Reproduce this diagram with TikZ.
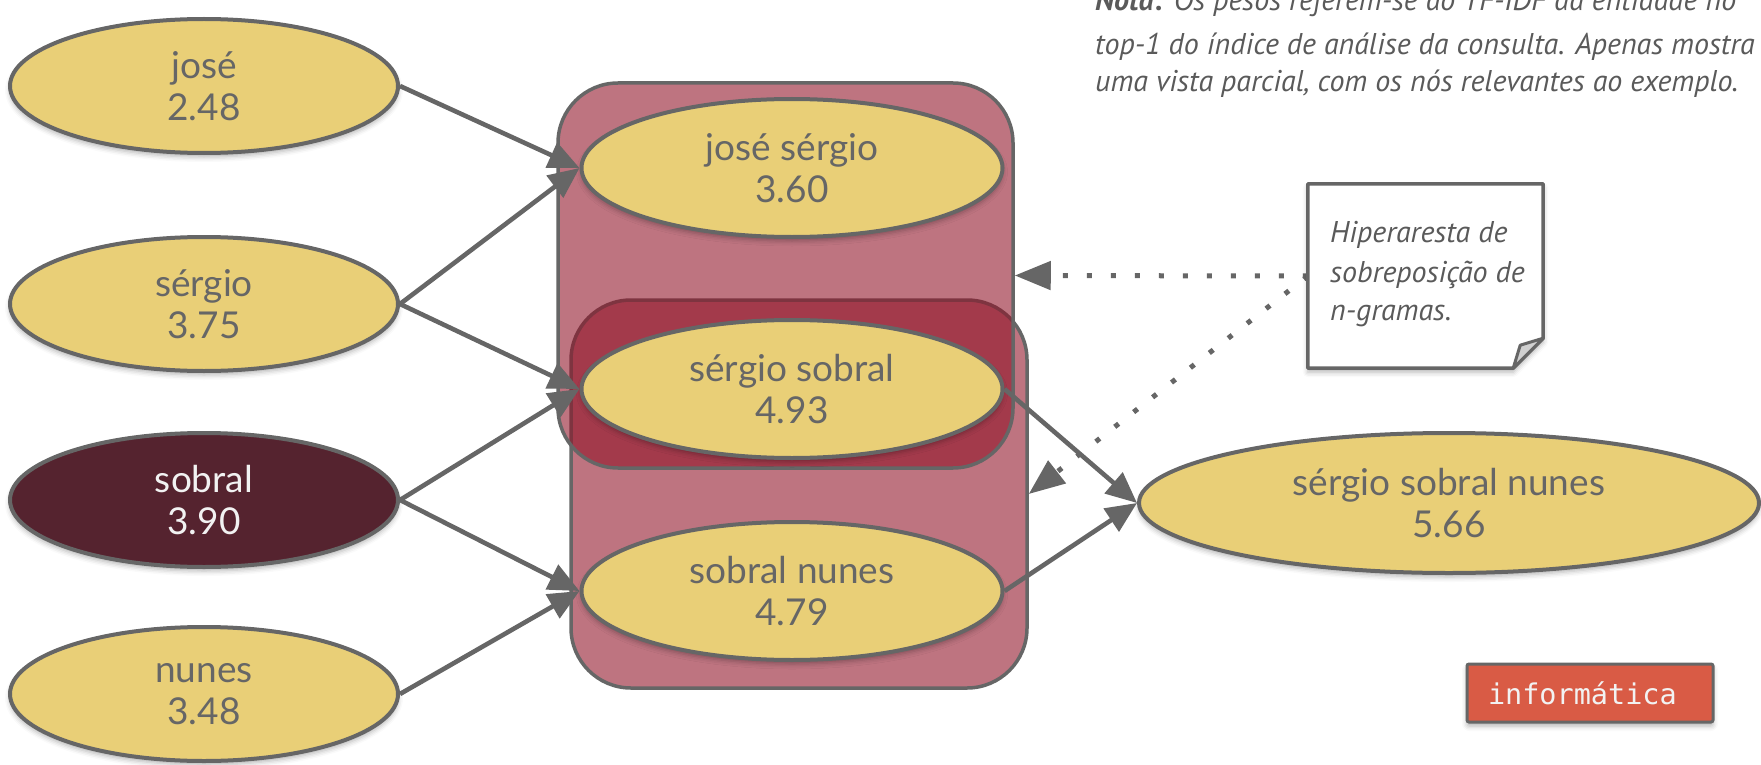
\documentclass[tikz,border=0pt]{standalone}
\usepackage{fontspec}
\setmainfont{Lato}
\newfontfamily\handfont{PT Sans}
\newfontfamily\codefont{DejaVu Sans Mono}
\usetikzlibrary{shapes.geometric,arrows.meta,calc,shadows.blur}
\definecolor{ink}{HTML}{666666}
\definecolor{ellfill}{HTML}{E9CF77}
\definecolor{darkfill}{HTML}{55232F}
\definecolor{hbred}{HTML}{901126}
\definecolor{notegrey}{HTML}{5A5A5A}
\definecolor{foldgrey}{HTML}{D0D0D0}
\definecolor{labred}{HTML}{D95B45}
\definecolor{labtext}{HTML}{F2F2F2}
\newlength\hwlen
\begin{document}
\settowidth\hwlen{\handfont\itshape\fontsize{30}{37}\selectfont uma vista parcial, com os nós relevantes ao exemplo.}%
\pgfmathsetmacro\hwfac{643/\hwlen}%
\begin{tikzpicture}[x=1pt,y=-1pt,
  every node/.style={inner sep=0pt},
  softshadow/.style={blur shadow={shadow xshift=0pt,shadow yshift=-4pt,shadow blur radius=5pt,shadow opacity=30}},
  ell/.style={ellipse, draw=ink, line width=4pt, fill=ellfill, text=ink, align=center,
    font=\fontsize{37}{42}\selectfont, minimum width=388pt, minimum height=134pt, softshadow},
  midell/.style={ell, minimum width=421pt, minimum height=138pt},
  bigell/.style={ell, minimum width=620pt, minimum height=140pt},
  darkell/.style={ell, fill=darkfill, text=labtext},
  hbox/.style={rectangle, rounded corners=60pt, draw=ink, line width=3.5pt, fill=hbred, fill opacity=0.585},
  conn/.style={draw=ink, line width=4.6pt, -{Triangle[length=31pt,width=27pt]}},
  dotconn/.style={draw=ink, line width=5pt, dash pattern=on 5pt off 19pt, -{Triangle[length=36pt,width=28pt]}},
  hand/.style={anchor=base west, text=notegrey, font=\handfont\itshape\fontsize{30}{37}\selectfont},
]
\path[use as bounding box] (0,0) rectangle (1761,765);
\clip (0,0) rectangle (1761,765);

% hyperedges
\node[hbox, minimum width=456pt, minimum height=388pt] (hb2) at (799,494) {};
\node[hbox, minimum width=455pt, minimum height=385pt] (hb1) at (785.5,275.5) {};

% left nodes
\node[ell] (jose) at (204,86) {josé\\2.48};
\node[ell] (sergio) at (204,304) {sérgio\\3.75};
\node[darkell] (sobral) at (204,500) {sobral\\3.90};
\node[ell] (nunes) at (204,694) {nunes\\3.48};

% middle nodes
\node[midell] (js) at (792,168) {josé sérgio\\3.60};
\node[midell] (ss) at (792,389) {sérgio sobral\\4.93};
\node[midell] (sn) at (792,591) {sobral nunes\\4.79};

% right node
\node[bigell] (ssn) at (1449,503) {sérgio sobral nunes\\5.66};

% connectors
\draw[conn] (jose.east) -- (js.west);
\draw[conn] (sergio.east) -- (js.west);
\draw[conn] (sergio.east) -- (ss.west);
\draw[conn] (sobral.east) -- (ss.west);
\draw[conn] (sobral.east) -- (sn.west);
\draw[conn] (nunes.east) -- (sn.west);
\draw[conn] (ss.east) -- (ssn.west);
\draw[conn] (sn.east) -- (ssn.west);

% note
\node[minimum width=235pt, minimum height=184pt] (note) at (1425.5,276) {};
\draw[dotconn] (note.west) -- (hb1.east);
\draw[dotconn] (note.west) -- (hb2.east);
\filldraw[draw=ink, fill=white, line width=3.5pt, line join=round, softshadow]
  (note.north west) -- (note.north east) -- ($(note.south east)+(0,-30)$)
  -- ($(note.south east)+(-30,0)$) -- (note.south west) -- cycle;
\filldraw[draw=ink, fill=foldgrey, line width=3pt, line join=round]
  ($(note.south east)+(0,-30)$) -- ($(note.south east)+(-23,-23)$) -- ($(note.south east)+(-30,0)$) -- cycle;
\node[hand] (n1) at (1330,242) {\scalebox{\hwfac}[1]{Hiperaresta de}};
\node[hand] (n2) at (1330,282) {\scalebox{\hwfac}[1]{sobreposição de}};
\node[hand] (n3) at (1330,320) {\scalebox{\hwfac}[1]{n-gramas.}};

% top note
\node[hand] (t1) at (1095,11) {\scalebox{\hwfac}[1]{\textbf{Nota:} Os pesos referem-se ao TF-IDF da entidade no}};
\node[hand] (t2) at (1095,55) {\scalebox{\hwfac}[1]{top-1 do índice de análise da consulta. Apenas mostra}};
\node[hand] (t3) at (1095,92) {\scalebox{\hwfac}[1]{uma vista parcial, com os nós relevantes ao exemplo.}};

% label
\node[draw=ink, line width=3pt, fill=labred, text=labtext, rounded corners=2pt,
  font=\codefont\fontsize{28.5}{30}\selectfont, minimum height=58pt, text width=204pt,
  inner xsep=21pt, align=left, softshadow] (dom) at (1590,693) {informática};
\end{tikzpicture}
\end{document}
